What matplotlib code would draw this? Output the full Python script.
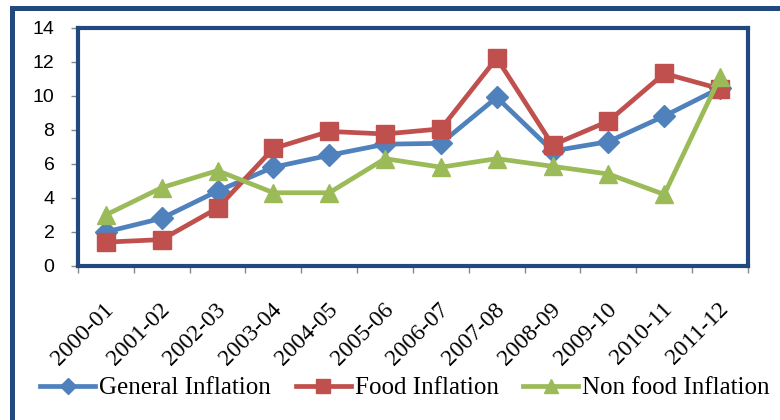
import matplotlib
matplotlib.use("Agg")
from matplotlib import pyplot as plt
from matplotlib.patches import Rectangle
import matplotlib.transforms as mtransforms

years = ["2000-01", "2001-02", "2002-03", "2003-04", "2004-05", "2005-06",
         "2006-07", "2007-08", "2008-09", "2009-10", "2010-11", "2011-12"]
general = [2.0, 2.8, 4.4, 5.8, 6.5, 7.15, 7.2, 9.9, 6.75, 7.3, 8.8, 10.45]
food = [1.4, 1.55, 3.4, 6.9, 7.9, 7.75, 8.05, 12.2, 7.1, 8.5, 11.3, 10.4]
nonfood = [3.0, 4.6, 5.6, 4.3, 4.3, 6.3, 5.8, 6.3, 5.85, 5.4, 4.2, 11.1]

frame_col = "#21497D"
serif = "Liberation Serif"

fig = plt.figure(figsize=(7.8, 4.2), dpi=100)
ax = fig.add_axes([78 / 780, 1 - 266 / 420, 670 / 780, (266 - 27.5) / 420])

x = list(range(len(years)))
ax.plot(x, general, color="#4F81BD", lw=3.4, marker="D", ms=11, mec="#4F81BD",
        label="General Inflation", zorder=3)
ax.plot(x, food, color="#C0504D", lw=3.4, marker="s", ms=13, mec="#C0504D",
        label="Food Inflation", zorder=4)
ax.plot(x, nonfood, color="#9BBB59", lw=3.4, marker="^", ms=13, mec="#9BBB59",
        label="Non food Inflation", zorder=5)

ax.set_xlim(-0.5, len(years) - 0.5)
ax.set_ylim(0, 14)
ax.set_yticks(range(0, 15, 2))
ax.set_yticklabels([str(v) for v in range(0, 15, 2)], family="Liberation Sans", fontsize=14)

ax.set_xticks(x)
ax.set_xticks([i - 0.5 for i in range(len(years) + 1)], minor=True)
ax.set_xticklabels(years, family=serif, fontsize=17, rotation=45,
                   ha="right", va="center", rotation_mode="anchor")
ax.tick_params(axis="x", which="major", length=0, pad=29)
ax.tick_params(axis="x", which="minor", length=5, color="#888888", width=1)
ax.tick_params(axis="y", length=5, color="#888888", width=1, pad=12)

offset = mtransforms.ScaledTranslation(5 / 100, 0, fig.dpi_scale_trans)
for lab in ax.get_xticklabels():
    lab.set_transform(lab.get_transform() + offset)

for sp in ax.spines.values():
    sp.set_color(frame_col)
    sp.set_linewidth(3)

# outer chart frame, runs off the right and bottom edges
fig.patches.append(Rectangle((12.5 / 780, -0.1), 1.0, 1 - 7.5 / 420 + 0.1,
                             transform=fig.transFigure, fill=False,
                             ec=frame_col, lw=3.6, zorder=0))

leg = fig.legend(loc="center", bbox_to_anchor=(405 / 780, 1 - 388 / 420), ncol=3,
                 frameon=False, prop={"family": serif, "size": 18},
                 handlelength=2.2, handletextpad=0.15, columnspacing=1.0,
                 markerscale=0.75)

fig.savefig("out.png", dpi=100)
